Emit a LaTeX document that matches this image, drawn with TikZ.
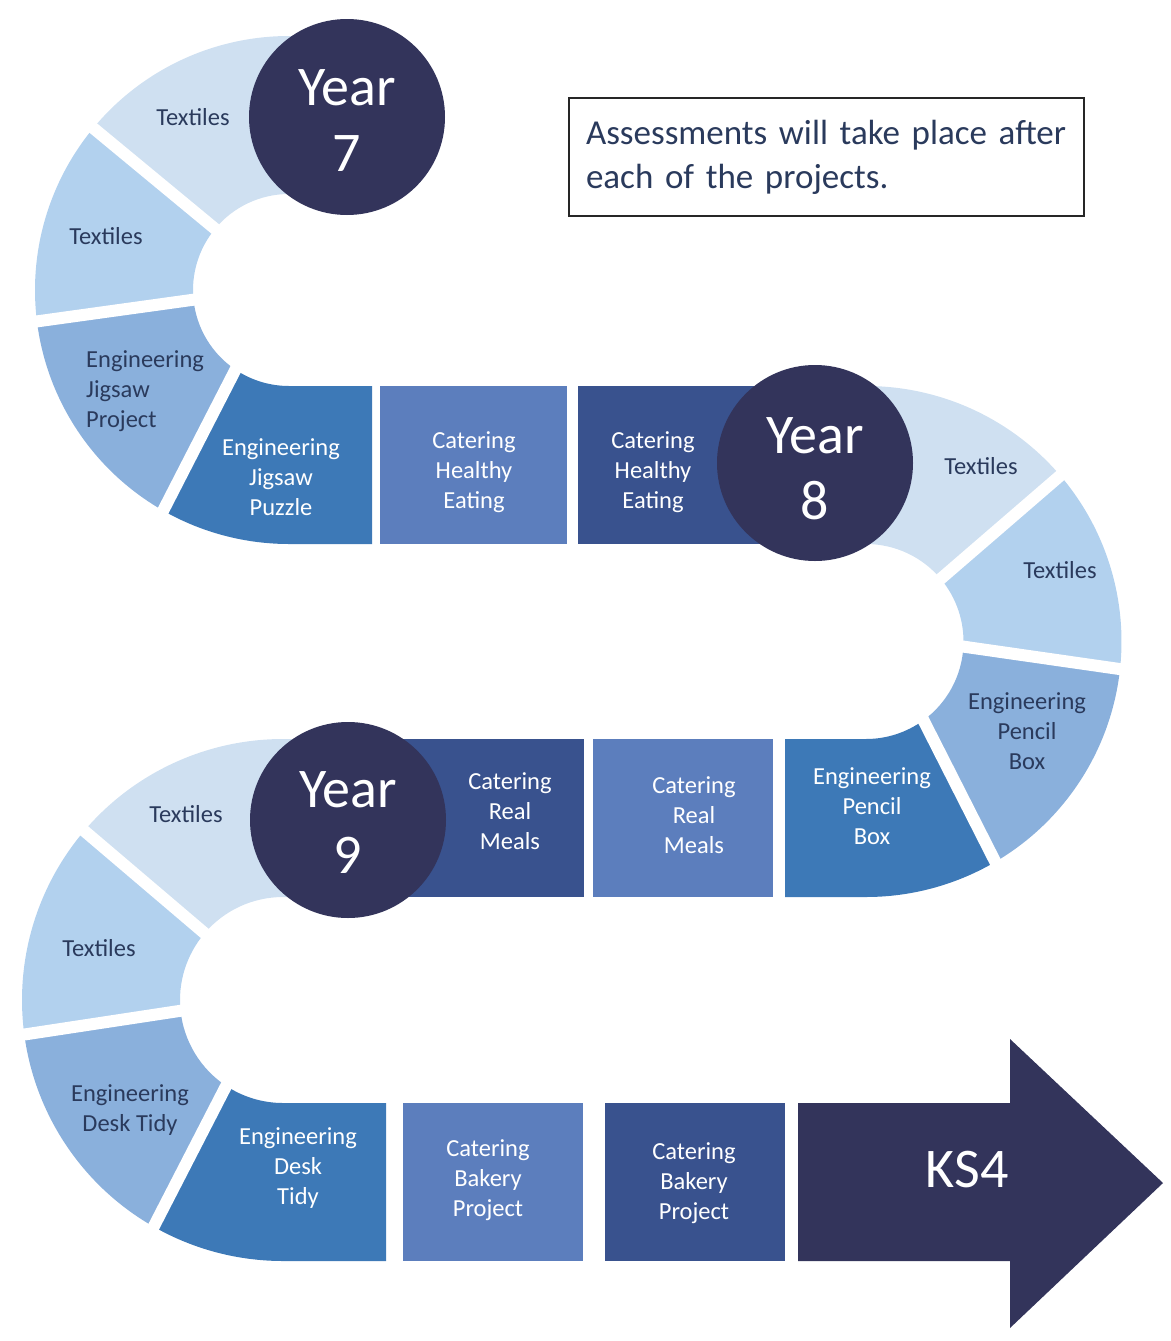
\documentclass[tikz,border=0pt]{standalone}
\usepackage{fontspec}
\setmainfont{Carlito}
\definecolor{textilesA}{HTML}{CFE0F1}
\definecolor{textilesB}{HTML}{B2D1EE}
\definecolor{engineeringA}{HTML}{8AB0DC}
\definecolor{engineeringB}{HTML}{3D79B7}
\definecolor{cateringA}{HTML}{5C7EBD}
\definecolor{cateringB}{HTML}{39528E}
\definecolor{navy}{HTML}{33345B}
\definecolor{labelink}{HTML}{2A3A5C}
\begin{document}
\begin{tikzpicture}[x=1pt, y=-1pt,
    lbl/.style={align=center, inner sep=0pt, font=\fontsize{24.5}{30}\selectfont},
    darklbl/.style={lbl, text=labelink},
    lightlbl/.style={lbl, text=white},
    yearcircle/.style={circle, fill=navy, minimum size=196pt, inner sep=0pt},
    yeartext/.style={text=white, align=center, inner sep=0pt, font=\fontsize{56}{66}\selectfont},
    splitline/.style={white, line width=12pt, shorten <=-12pt, shorten >=-12pt}]
  \useasboundingbox (0,0) rectangle (1170,1341);
  \coordinate (c1) at (289,290);
  \coordinate (c2) at (866,641.5);
  \coordinate (c3) at (283,1000);

  % year 7 bend
  \fill[textilesA, shift={(c1)}] (21,-254) -- (270:254) arc[start angle=270, end angle=219.6, radius=254]
    -- (219.6:96) arc[start angle=219.6, end angle=270, radius=96] -- (21,-96) -- cycle;
  \foreach \ai/\ao/\bi/\bo/\col in {219.6/219.6/174.2/172.9/textilesB, 174.2/172.9/123.9/119.7/engineeringA}
    \fill[\col, shift={(c1)}] (\ao:254) arc[start angle=\ao, end angle=\bo, radius=254]
      -- (\bi:96) arc[start angle=\bi, end angle=\ai, radius=96] -- cycle;
  \fill[engineeringB, shift={(c1)}] (119.7:254) arc[start angle=119.7, end angle=90, radius=254]
    -- (83,254) -- (83,96) -- (90:96) arc[start angle=90, end angle=123.9, radius=96] -- cycle;
  \foreach \ai/\ao in {219.6/219.6, 174.2/172.9, 123.9/119.7}
    \draw[splitline, shift={(c1)}] (\ai:96) -- (\ao:254);

  % first straight
  \fill[cateringA] (380,386) rectangle (567,544);
  \fill[cateringB] (578,386) rectangle (866,544);

  % year 8 bend
  \fill[textilesA, shift={(c2)}] (270:255.5) arc[start angle=270, end angle=319.5, radius=255.5]
    -- (320:97.5) arc[start angle=320, end angle=270, radius=97.5] -- cycle;
  \foreach \ai/\ao/\bi/\bo/\col in {320/319.5/363/366.2/textilesB, 363/366.2/413.9/419.6/engineeringA}
    \fill[\col, shift={(c2)}] (\ao:255.5) arc[start angle=\ao, end angle=\bo, radius=255.5]
      -- (\bi:97.5) arc[start angle=\bi, end angle=\ai, radius=97.5] -- cycle;
  \fill[engineeringB, shift={(c2)}] (419.6:255.5) arc[start angle=419.6, end angle=450, radius=255.5]
    -- (-81,255.5) -- (-81,97.5) -- (450:97.5) arc[start angle=450, end angle=413.9, radius=97.5] -- cycle;
  \foreach \ai/\ao in {320/319.5, 363/366.2, 413.9/419.6}
    \draw[splitline, shift={(c2)}] (\ai:97.5) -- (\ao:255.5);

  % second straight
  \fill[cateringA] (593,739) rectangle (773,897);
  \fill[cateringB] (300,739) rectangle (584,897);

  % year 9 bend
  \fill[textilesA, shift={(c3)}] (17,-261) -- (270:261) arc[start angle=270, end angle=220.4, radius=261]
    -- (220.4:103) arc[start angle=220.4, end angle=270, radius=103] -- (17,-103) -- cycle;
  \foreach \ai/\ao/\bi/\bo/\col in {220.4/220.4/174/172.4/textilesB, 174/172.4/123.5/119.7/engineeringA}
    \fill[\col, shift={(c3)}] (\ao:261) arc[start angle=\ao, end angle=\bo, radius=261]
      -- (\bi:103) arc[start angle=\bi, end angle=\ai, radius=103] -- cycle;
  \fill[engineeringB, shift={(c3)}] (119.7:261) arc[start angle=119.7, end angle=90, radius=261]
    -- (103,261) -- (103,103) -- (90:103) arc[start angle=90, end angle=123.5, radius=103] -- cycle;
  \foreach \ai/\ao in {220.4/220.4, 174/172.4, 123.5/119.7}
    \draw[splitline, shift={(c3)}] (\ai:103) -- (\ao:261);

  % last straight and arrow
  \fill[cateringA] (403,1103) rectangle (583,1261);
  \fill[cateringB] (605,1103) rectangle (785,1261);
  \fill[navy] (798,1103) -- (1010,1103) -- (1010,1039) -- (1163,1183) -- (1010,1328)
    -- (1010,1261) -- (798,1261) -- cycle;

  \node[yearcircle] (year7) at (347,117) {};
  \node[yearcircle] (year8) at (815,463) {};
  \node[yearcircle] (year9) at (348,820) {};
  \node[yeartext] (year7text) at ([yshift=-4pt]year7.center) {Year\\7};
  \node[yeartext] (year8text) at ([yshift=-6pt]year8.center) {Year\\8};
  \node[yeartext] (year9text) at ([yshift=-3pt]year9.center) {Year\\9};

  \node[darklbl] (tex7a) at (193,117) {Textiles};
  \node[darklbl] (tex7b) at (106,236) {Textiles};
  \node[darklbl, align=left, anchor=west] (eng7a) at (86,391) {Engineering\\Jigsaw\\Project};
  \node[lightlbl] (eng7b) at (281,477) {Engineering\\Jigsaw\\Puzzle};
  \node[lightlbl] (cat7a) at (474,472) {Catering\\Healthy\\Eating};
  \node[lightlbl] (cat7b) at (653,472) {Catering\\Healthy\\Eating};

  \node[darklbl] (tex8a) at (981,466) {Textiles};
  \node[darklbl] (tex8b) at (1060,570) {Textiles};
  \node[darklbl] (eng8a) at (1027,731) {Engineering\\Pencil\\Box};
  \node[lightlbl] (eng8b) at (872,806) {Engineering\\Pencil\\Box};
  \node[lightlbl] (cat8a) at (694,815) {Catering\\Real\\Meals};
  \node[lightlbl] (cat8b) at (510,811) {Catering\\Real\\Meals};

  \node[darklbl] (tex9a) at (186,814) {Textiles};
  \node[darklbl] (tex9b) at (99,948) {Textiles};
  \node[darklbl] (eng9a) at (130,1110) {Engineering\\Desk Tidy};
  \node[lightlbl] (eng9b) at (298,1168) {Engineering\\Desk\\Tidy};
  \node[lightlbl] (cat9a) at (488,1180) {Catering\\Bakery\\Project};
  \node[lightlbl] (cat9b) at (694,1183) {Catering\\Bakery\\Project};

  \node[yeartext] (ks4) at (967,1170) {KS4};

  \node[draw=black!85, line width=1.5pt, inner xsep=17pt, text width=481pt, minimum height=118pt,
    align=left, text=labelink, font=\fontsize{35}{44}\selectfont] (note) at (826.5,157)
    {Assessments will take place after\\each of the projects.};
\end{tikzpicture}
\end{document}
